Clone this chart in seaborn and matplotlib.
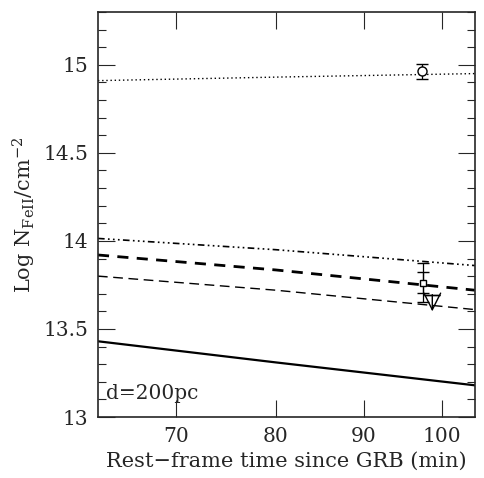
import numpy as np
import pandas as pd
import matplotlib
matplotlib.use("Agg")
import matplotlib.pyplot as plt
from matplotlib.ticker import FixedLocator, NullLocator, MultipleLocator
import seaborn as sns

# model curves (x in min, y in log N)
t_model = [63.0, 80.0, 104.5]
n_dotted = [14.91, 14.93, 14.95]
n_dashdot = [14.014, 13.95, 13.86]
n_thick_dash = [13.92, 13.835, 13.72]
n_thin_dash = [13.80, 13.72, 13.61]
n_solid = [13.43, 13.31, 13.18]

# observations
t_obs = [97.3, 97.5]
n_obs = [14.962, 13.762]
n_err = [0.04, 0.11]
n_err_inner = [0.0, 0.06]
t_limit = 98.7
n_limit = 13.695
n_limit_tip = 13.60

sns.set_style("ticks")
plt.rcParams["font.family"] = ["DejaVu Serif"]
plt.rcParams["mathtext.fontset"] = "dejavuserif"

fig = plt.figure(figsize=(4.85, 4.78), dpi=100)
ax = fig.add_axes([0.202, 0.1276, 0.777, 0.8474])

styles = [
    (n_dotted, (0, (1, 2)), 1.0),
    (n_dashdot, (0, (4, 2, 1, 2, 1, 2, 1, 2)), 1.2),
    (n_thick_dash, (0, (4, 3)), 2.0),
    (n_thin_dash, (0, (7, 4)), 1.0),
    (n_solid, "-", 1.6),
]
for vals, ls, lw in styles:
    sns.lineplot(x=t_model, y=vals, ax=ax, color="black", linestyle=ls,
                 linewidth=lw, legend=False)

ax.errorbar(t_obs[0], n_obs[0], yerr=n_err[0], fmt="o", mfc="white",
            mec="black", color="black", ms=6.5, capsize=4, lw=0.9, zorder=5)
ax.errorbar(t_obs[1], n_obs[1], yerr=n_err[1], fmt="s", mfc="white",
            mec="black", color="black", ms=4, capsize=4, lw=0.9, zorder=5)
ax.errorbar(t_obs[1], n_obs[1], yerr=n_err_inner[1], fmt="none",
            color="black", capsize=4, lw=0.9, zorder=5)
ax.errorbar(t_limit, n_limit, yerr=[[0.0], [0.0]], fmt="none",
            color="black", capsize=6, lw=0.9)
ax.annotate("", xy=(t_limit, n_limit_tip), xytext=(t_limit, n_limit),
            arrowprops=dict(arrowstyle="->,head_length=0.6,head_width=0.3",
                            lw=1.0, color="black", mutation_scale=20,
                            shrinkA=0, shrinkB=0))

ax.set_xscale("log")
ax.set_xlim(63.0, 104.5)
ax.set_ylim(13, 15.3)
ax.xaxis.set_major_locator(FixedLocator([70, 80, 90, 100]))
ax.xaxis.set_minor_locator(NullLocator())
ax.set_xticklabels(["70", "80", "90", "100"])
ax.yaxis.set_major_locator(FixedLocator([13, 13.5, 14, 14.5, 15]))
ax.set_yticklabels(["13", "13.5", "14", "14.5", "15"])
ax.yaxis.set_minor_locator(MultipleLocator(0.1))

ax.tick_params(which="both", direction="in", top=True, right=True,
               labelsize=14.5, width=0.8)
ax.tick_params(which="major", length=12, pad=7)
ax.tick_params(which="minor", length=6)
for s in ax.spines.values():
    s.set_linewidth(1.2)

ax.set_xlabel("Rest\u2212frame time since GRB (min)", fontsize=15, labelpad=4)
ax.set_ylabel(r"Log N$_{\mathregular{FeII}}$/cm$^{-2}$", fontsize=15,
              labelpad=4)
ax.text(0.02, 0.045, "d=200pc", transform=ax.transAxes, fontsize=14.5)

fig.savefig("out.png", dpi=100)
